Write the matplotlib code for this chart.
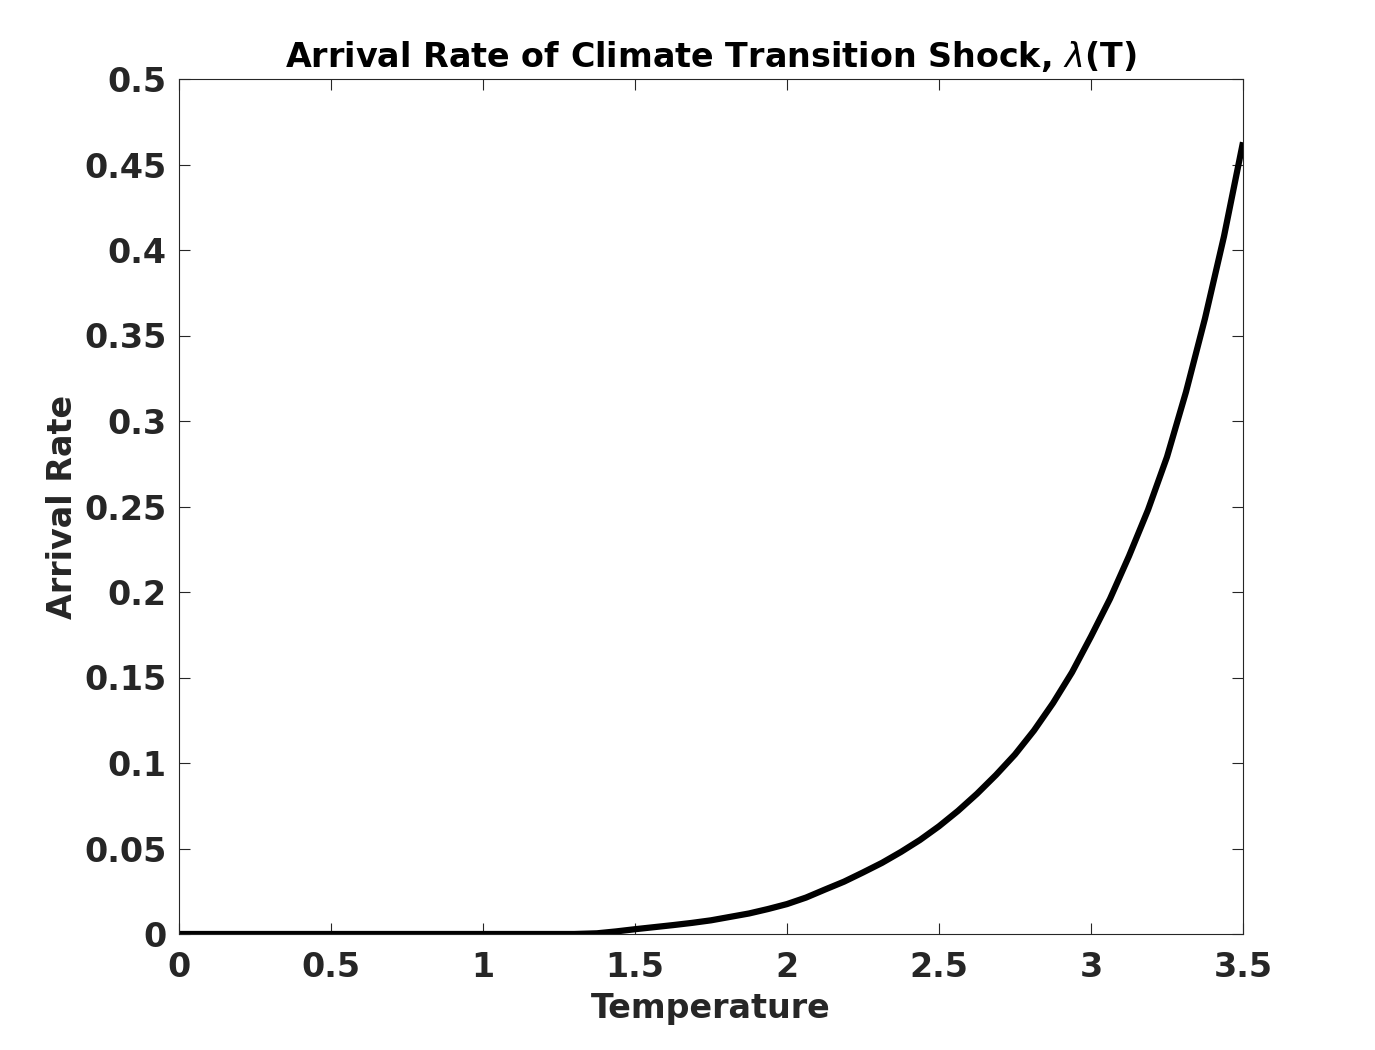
import matplotlib
matplotlib.use("Agg")
import numpy as np
from matplotlib import pyplot as plt

# values
temperature  = [0.0, 0.5, 1.0, 1.3, 1.375, 1.4375, 1.5, 1.5625, 1.625, 1.6875, 1.75, 1.8125,
                1.875, 1.9375, 2.0, 2.0625, 2.125, 2.1875, 2.25, 2.3125, 2.375, 2.4375,
                2.5, 2.5625, 2.625, 2.6875, 2.75, 2.8125, 2.875, 2.9375, 3.0, 3.0625,
                3.125, 3.1875, 3.25, 3.3125, 3.375, 3.4375, 3.5]
arrival_rate = [0.0, 0.0, 0.0, 0.0, 0.0004, 0.0015, 0.0028, 0.004, 0.0052, 0.0065, 0.008, 0.010,
                0.012, 0.0146, 0.0175, 0.0213, 0.026, 0.0306, 0.036, 0.0416, 0.048, 0.055,
                0.063, 0.072, 0.082, 0.093, 0.105, 0.119, 0.135, 0.153, 0.174, 0.196,
                0.221, 0.248, 0.279, 0.317, 0.36, 0.408, 0.463]

x_ticks       = [0, 0.5, 1, 1.5, 2, 2.5, 3, 3.5]
x_tick_labels = ["0", "0.5", "1", "1.5", "2", "2.5", "3", "3.5"]
y_ticks       = [0, 0.05, 0.1, 0.15, 0.2, 0.25, 0.3, 0.35, 0.4, 0.45, 0.5]
y_tick_labels = ["0", "0.05", "0.1", "0.15", "0.2", "0.25", "0.3", "0.35", "0.4", "0.45", "0.5"]

axis_color = "#262626"

plt.rcParams["font.family"] = ["DejaVu Sans"]
plt.rcParams["mathtext.fontset"] = "dejavusans"

fig = plt.figure(figsize=(13.75, 10.5), dpi=100)
ax = fig.add_axes([179/1375, 1 - 934/1050, (1243-179)/1375, (934-79)/1050])

ax.plot(temperature, arrival_rate, color="black", linewidth=4.5,
        solid_capstyle="butt", solid_joinstyle="round")

ax.set_xlim(0, 3.5)
ax.set_ylim(0, 0.5)
ax.set_xticks(x_ticks)
ax.set_xticklabels(x_tick_labels)
ax.set_yticks(y_ticks)
ax.set_yticklabels(y_tick_labels)

ax.tick_params(direction="in", length=7.7, width=0.8, colors=axis_color,
               labelsize=24, top=True, right=True)
ax.tick_params(axis="x", pad=12)
ax.tick_params(axis="y", pad=9)
for lbl in ax.get_xticklabels() + ax.get_yticklabels():
    lbl.set_fontweight("bold")
for sp in ax.spines.values():
    sp.set_color(axis_color)
    sp.set_linewidth(0.8)

ax.set_xlabel("Temperature", fontsize=24, fontweight="bold", color=axis_color, labelpad=6)
ax.set_ylabel("Arrival Rate", fontsize=24, fontweight="bold", color=axis_color, labelpad=4)
ax.set_title(r"Arrival Rate of Climate Transition Shock, $\lambda$(T)",
             fontsize=24, fontweight="bold", color="black", pad=9)

fig.savefig("out.png", dpi=100)
